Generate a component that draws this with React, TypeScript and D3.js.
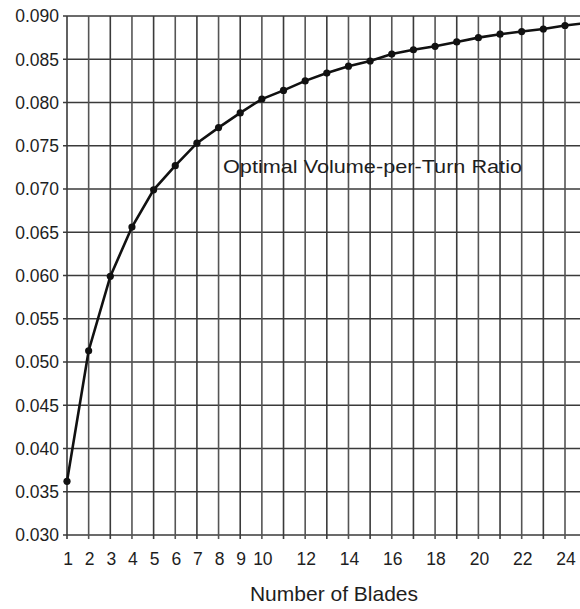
import React from "react";
import * as d3 from "d3";

const blades = [1, 2, 3, 4, 5, 6, 7, 8, 9, 10, 11, 12, 13, 14, 15, 16, 17, 18, 19, 20, 21, 22, 23, 24, 25];
const ratio = [
  0.0362, 0.0513, 0.0599, 0.0656, 0.0699, 0.0727, 0.0753, 0.0771, 0.0788, 0.0804,
  0.0814, 0.0825, 0.0834, 0.0842, 0.0848, 0.0856, 0.0861, 0.0865, 0.0870, 0.0875,
  0.0879, 0.0882, 0.0885, 0.0889, 0.0892,
];
const xTickLabels = [1, 2, 3, 4, 5, 6, 7, 8, 9, 10, 12, 14, 16, 18, 20, 22, 24];
const yTicks = [0.03, 0.035, 0.04, 0.045, 0.05, 0.055, 0.06, 0.065, 0.07, 0.075, 0.08, 0.085, 0.09];
const gridX = d3.range(1, 26);
const seriesLabel = "Optimal Volume-per-Turn Ratio";
const xTitle = "Number of Blades";

export default function App() {
  const W = 580;
  const H = 609;
  const x = d3.scaleLinear().domain([1, 24]).range([67, 565]);
  const y = d3.scaleLinear().domain([0.03, 0.09]).range([535, 16]);
  const pts = blades.map((b, i) => [b, ratio[i]] as [number, number]);
  const line = d3
    .line<[number, number]>()
    .x((d) => x(d[0]))
    .y((d) => y(d[1]));
  const font = "'Liberation Sans', Arial, Helvetica, sans-serif";
  const x0 = x(1);
  const xR = W;
  return (
    <svg
      width={W}
      height={H}
      style={{ position: "absolute", left: 0, top: 0, background: "#fff" }}
      fontFamily={font}
    >
      <defs>
        <clipPath id="plot">
          <rect x={0} y={0} width={W} height={H} />
        </clipPath>
      </defs>
      <rect x={0} y={0} width={W} height={H} fill="#fff" />
      {yTicks.map((t) => (
        <line
          key={"h" + t}
          x1={x0 - 4}
          x2={xR}
          y1={y(t)}
          y2={y(t)}
          stroke="#3a3a3a"
          strokeWidth={1.6}
        />
      ))}
      {gridX.map((g) => (
        <line
          key={"v" + g}
          x1={x(g)}
          x2={x(g)}
          y1={y(0.09)}
          y2={y(0.03) + 4}
          stroke={g % 2 === 0 ? "#555" : "#3a3a3a"}
          strokeWidth={1.6}
        />
      ))}
      {yTicks.map((t) => (
        <text
          key={"yl" + t}
          x={59}
          y={y(t)}
          dy="0.36em"
          textAnchor="end"
          fontSize={17.5}
          fill="#1e1e1e"
        >
          {d3.format(".3f")(t)}
        </text>
      ))}
      {xTickLabels.map((t) => (
        <text
          key={"xl" + t}
          x={x(t) + 1}
          y={565}
          textAnchor="middle"
          fontSize={17.5}
          fill="#1e1e1e"
        >
          {t}
        </text>
      ))}
      <g clipPath="url(#plot)">
        <path d={line(pts) || ""} fill="none" stroke="#111" strokeWidth={2.6} />
        {pts.map((p) => (
          <circle key={"c" + p[0]} cx={x(p[0])} cy={y(p[1])} r={3.6} fill="#111" />
        ))}
      </g>
      <text
        x={223}
        y={173}
        fontSize={19}
        fill="#1e1e1e"
        textLength={299}
        lengthAdjust="spacingAndGlyphs"
      >
        {seriesLabel}
      </text>
      <text
        x={334}
        y={601}
        textAnchor="middle"
        fontSize={21}
        fill="#1e1e1e"
      >
        {xTitle}
      </text>
    </svg>
  );
}
